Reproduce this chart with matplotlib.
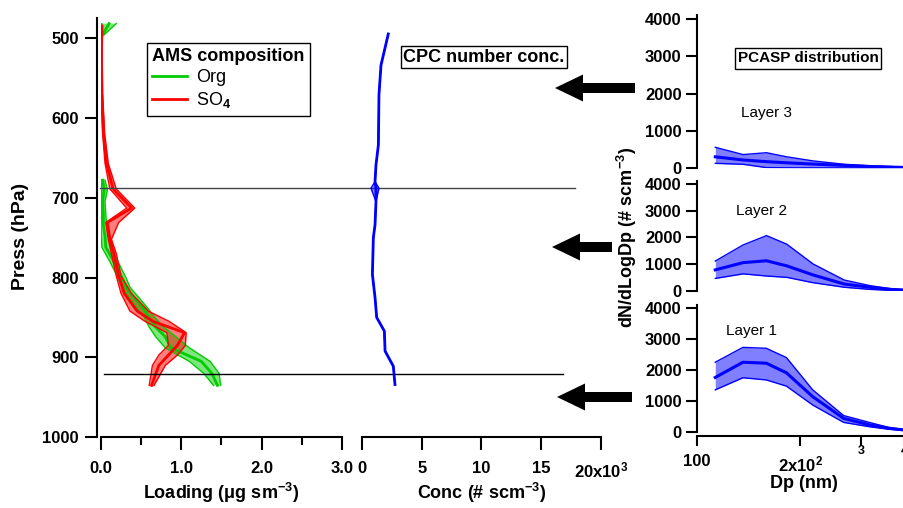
import numpy as np
import matplotlib
matplotlib.use('Agg')
import matplotlib.pyplot as plt
from matplotlib.lines import Line2D
from matplotlib.patches import FancyArrow
from matplotlib.transforms import blended_transform_factory

plt.rcParams['font.family'] = ['Liberation Sans', 'DejaVu Sans']
plt.rcParams['font.weight'] = 'bold'
plt.rcParams['axes.labelweight'] = 'bold'
plt.rcParams['mathtext.fontset'] = 'custom'
plt.rcParams['mathtext.rm'] = 'Liberation Sans'
plt.rcParams['mathtext.bf'] = 'Liberation Sans:bold'
plt.rcParams['mathtext.it'] = 'Liberation Sans:italic'

nan = np.nan

# AMS organics (pressure hPa, loading ug/m3)
p_org = [482, 496, 505, 678, 690, 705, 720, 735, 748, 762, 780, 800, 812, 825,
         838, 850, 862, 874, 888, 905, 920, 935]
org_lo = [0.01, 0.00, nan, 0.00, 0.01, 0.00, 0.01, 0.00, 0.005, 0.01, 0.11, 0.21, 0.27, 0.35,
          0.45, 0.54, 0.60, 0.68, 0.80, 1.10, 1.28, 1.40]
org_hi = [0.19, 0.04, nan, 0.05, 0.08, 0.05, 0.06, 0.07, 0.10, 0.12, 0.21, 0.31, 0.36, 0.47,
          0.58, 0.67, 0.78, 0.93, 1.10, 1.36, 1.47, 1.49]
org_mean = [0.10, 0.02, nan, 0.02, 0.04, 0.02, 0.03, 0.03, 0.05, 0.06, 0.16, 0.26, 0.31, 0.41,
            0.52, 0.60, 0.68, 0.80, 0.87, 1.25, 1.38, 1.45]

# AMS sulphate
p_so4 = [485, 520, 569, 619, 657, 689, 713, 731, 752, 770, 798, 820, 842, 855,
         869, 885, 897, 910, 935]
so4_lo = [0.0, 0.0, 0.0, 0.02, 0.05, 0.11, 0.32, 0.06, 0.09, 0.13, 0.19, 0.25, 0.36, 0.55,
          0.82, 0.84, 0.72, 0.64, 0.60]
so4_hi = [0.02, 0.015, 0.02, 0.045, 0.09, 0.19, 0.42, 0.22, 0.13, 0.19, 0.25, 0.38, 0.59, 0.85,
          1.06, 1.05, 0.95, 0.80, 0.66]
so4_mean = [0.01, 0.005, 0.01, 0.03, 0.07, 0.15, 0.38, 0.08, 0.11, 0.16, 0.22, 0.29, 0.45, 0.65,
            1.04, 0.95, 0.84, 0.72, 0.63]

# CPC number concentration (#/scm)
p_cpc = [495, 534, 571, 634, 659, 680, 688, 705, 734, 750, 796, 825, 850, 867, 892, 911, 934]
cpc = [2200, 1590, 1420, 1370, 1170, 1090, 1170, 1170, 1090, 950, 870, 1090, 1230, 1870, 1930, 2620, 2760]
cpc_lo = [2200, 1590, 1420, 1370, 1170, 1090, 750, 1170, 1090, 950, 870, 1090, 1230, 1870, 1930, 2620, 2760]
cpc_hi = [2200, 1590, 1420, 1370, 1170, 1090, 1420, 1170, 1090, 950, 870, 1090, 1230, 1870, 1930, 2620, 2760]

# PCASP size distributions
dp = [113, 136, 159, 182, 217, 267, 317, 363, 400]
l1_mean = [1760, 2250, 2220, 1910, 1140, 440, 230, 120, 65]
l1_hi = [2250, 2730, 2700, 2400, 1360, 530, 310, 140, 80]
l1_lo = [1360, 1750, 1680, 1480, 870, 310, 170, 85, 50]
l2_mean = [790, 1060, 1130, 940, 600, 260, 140, 60, 35]
l2_hi = [1120, 1720, 2070, 1750, 1010, 410, 200, 90, 50]
l2_lo = [470, 640, 560, 510, 310, 140, 60, 25, 15]
l3_mean = [300, 215, 170, 140, 105, 70, 40, 25, 15]
l3_hi = [555, 360, 410, 300, 190, 100, 60, 40, 20]
l3_lo = [125, 100, 10, 5, 3, 2, 0, 0, 0]

W, H = 904, 508
fig = plt.figure(figsize=(W / 100, H / 100), dpi=100)


def add_ax(left, top, right, bottom):
    ax = fig.add_axes([left / W, 1 - bottom / H, (right - left) / W, (bottom - top) / H])
    ax.patch.set_visible(False)
    return ax


green = '#00CC00'
red = '#FF0000'
blue = '#0000FF'

# ---- AMS panel
ax1 = add_ax(101, 18, 342, 437.3)
for p, lo, hi, m, c in [(p_org, org_lo, org_hi, org_mean, green),
                        (p_so4, so4_lo, so4_hi, so4_mean, red)]:
    ax1.fill_betweenx(p, lo, hi, color=c, alpha=0.5, lw=0)
    ax1.plot(lo, p, color=c, lw=1)
    ax1.plot(hi, p, color=c, lw=1)
    ax1.plot(m, p, color=c, lw=2)
ax1.set_ylim(1000, 475)
ax1.set_xlim(0, 3.0)
ax1.set_xticks([0, 1, 2, 3])
ax1.set_xticklabels(['0.0', '1.0', '2.0', '3.0'])
ax1.set_xticks([0.5, 1.5, 2.5], minor=True)
ax1.set_yticks([500, 600, 700, 800, 900, 1000])
for s in ['top', 'right']:
    ax1.spines[s].set_visible(False)
ax1.spines['left'].set_position(('outward', 3))
for s in ['left', 'bottom']:
    ax1.spines[s].set_linewidth(1.5)
ax1.tick_params(axis='both', which='major', length=9, width=1.5, labelsize=12)
ax1.tick_params(axis='x', which='major', pad=8)
ax1.tick_params(axis='x', which='minor', length=5.5, width=1.5)
ax1.tick_params(axis='y', pad=4)
ax1.set_ylabel('Press (hPa)', fontsize=14)
ax1.yaxis.set_label_coords(-0.30, 0.48)
ax1.set_xlabel(r'Loading (μg sm$^{\mathbf{-3}}$)', fontsize=13)
ax1.xaxis.set_label_coords(0.5, -0.105)

leg = ax1.legend(handles=[Line2D([], [], color=green, lw=2), Line2D([], [], color=red, lw=2)],
                 labels=['Org', 'SO$_4$'], title='AMS composition',
                 title_fontproperties={'weight': 'bold', 'size': 13},
                 prop={'size': 13, 'weight': 'normal'},
                 loc='upper left', bbox_to_anchor=(147 / W, 1 - 43 / H), bbox_transform=fig.transFigure,
                 fancybox=False, framealpha=1, edgecolor='black', borderpad=0.3, labelspacing=0.22,
                 handlelength=1.9, handletextpad=0.5, borderaxespad=0)
leg.get_frame().set_linewidth(1)
leg._legend_box.align = 'left'

# ---- CPC panel
ax2 = add_ax(362, 18, 601, 437.3)
ax2.fill_betweenx(p_cpc, cpc_lo, cpc_hi, color=blue, alpha=0.5, lw=0)
ax2.plot(cpc_lo, p_cpc, color=blue, lw=1)
ax2.plot(cpc_hi, p_cpc, color=blue, lw=1)
ax2.plot(cpc, p_cpc, color=blue, lw=2)
ax2.set_ylim(1000, 475)
ax2.set_xlim(0, 20000)
ax2.set_xticks([0, 5000, 10000, 15000, 20000])
ax2.set_xticklabels(['0', '5', '10', '15', r'20x10$^{\mathbf{3}}$'])
ax2.set_yticks([])
for s in ['top', 'right', 'left']:
    ax2.spines[s].set_visible(False)
ax2.spines['bottom'].set_linewidth(1.5)
ax2.tick_params(axis='x', length=9, width=1.5, labelsize=12, pad=8)
ax2.set_xlabel(r'Conc (# scm$^{\mathbf{-3}}$)', fontsize=13)
ax2.xaxis.set_label_coords(0.5, -0.105)
fig.text(484 / W, 1 - 57 / H, 'CPC number conc.', ha='center', va='center', fontsize=13,
         weight='bold', bbox=dict(boxstyle='square,pad=0.12', fc='white', ec='black', lw=1))

# layer boundary lines across both panels
tr = blended_transform_factory(fig.transFigure, ax1.transData)
ax1.plot([100 / W, 575 / W], [688.4, 688.4], transform=tr, color='#444444', lw=1, clip_on=False)
ax1.plot([104 / W, 563 / W], [921, 921], transform=tr, color='black', lw=1, clip_on=False)

# ---- PCASP panels
panels = [
    (15.3, 168, l3_lo, l3_mean, l3_hi, 'Layer 3', (767, 113)),
    (181.3, 291, l2_lo, l2_mean, l2_hi, 'Layer 2', (762, 211)),
    (304.9, 432, l1_lo, l1_mean, l1_hi, 'Layer 1', (751, 331)),
]
axes_r = []
for top, bottom, lo, m, hi, name, (tx, ty) in panels:
    ax = add_ax(697, top, 904, bottom)
    ax.fill_between(dp, lo, hi, color=blue, alpha=0.5, lw=0)
    ax.plot(dp, lo, color=blue, lw=1)
    ax.plot(dp, hi, color=blue, lw=1)
    ax.plot(dp, m, color=blue, lw=2.2)
    ax.set_xscale('log')
    ax.set_xlim(100, 398)
    ax.set_ylim(0, 4100)
    ax.set_yticks([0, 1000, 2000, 3000, 4000])
    for s in ['top', 'right']:
        ax.spines[s].set_visible(False)
    ax.spines['left'].set_linewidth(1.5)
    ax.spines['bottom'].set_linewidth(1.5)
    ax.tick_params(axis='y', length=8, width=1.5, labelsize=12, pad=3)
    ax.xaxis.set_minor_locator(matplotlib.ticker.NullLocator())
    fig.text(tx / W, 1 - ty / H, name, ha='center', va='center', fontsize=11, weight='normal')
    axes_r.append(ax)

for ax in axes_r[:2]:
    ax.spines['bottom'].set_visible(False)
    ax.set_xticks([])

axb = axes_r[2]
axb.spines['bottom'].set_position(('outward', 3))
axb.set_xticks([100, 200, 300, 400])
axb.set_xticklabels(['100', r'2x10$^{\mathbf{2}}$', '', ''])
axb.tick_params(axis='x', length=7, width=1.5, labelsize=12, pad=6)
trx = blended_transform_factory(axb.transData, fig.transFigure)
for v, lab in [(300, '3'), (400, '4')]:
    fig.text(v, 1 - 451 / H, lab, transform=trx, ha='center', va='center', fontsize=9, weight='bold')

fig.text(804 / W, 1 - 483 / H, 'Dp (nm)', ha='center', va='center', fontsize=13, weight='bold')
fig.text(627 / W, 1 - 237 / H, r'dN/dLogDp (# scm$^{\mathbf{-3}}$)', ha='center', va='center',
         rotation=90, fontsize=13, weight='bold')
fig.text(808 / W, 1 - 58.5 / H, 'PCASP distribution', ha='center', va='center', fontsize=11,
         weight='bold', bbox=dict(boxstyle='square,pad=0.2', fc='white', ec='black', lw=1))

# arrows pointing at the layers
for tip_x, tail_x, y in [(555, 635, 88), (552, 612, 247), (557, 632, 397)]:
    arr = FancyArrow(tail_x / 100, (H - y) / 100, (tip_x - tail_x) / 100, 0,
                     width=0.10, head_width=0.27, head_length=0.28, length_includes_head=True,
                     transform=fig.dpi_scale_trans, color='black', lw=0)
    fig.add_artist(arr)

fig.savefig('out.png', dpi=100)
